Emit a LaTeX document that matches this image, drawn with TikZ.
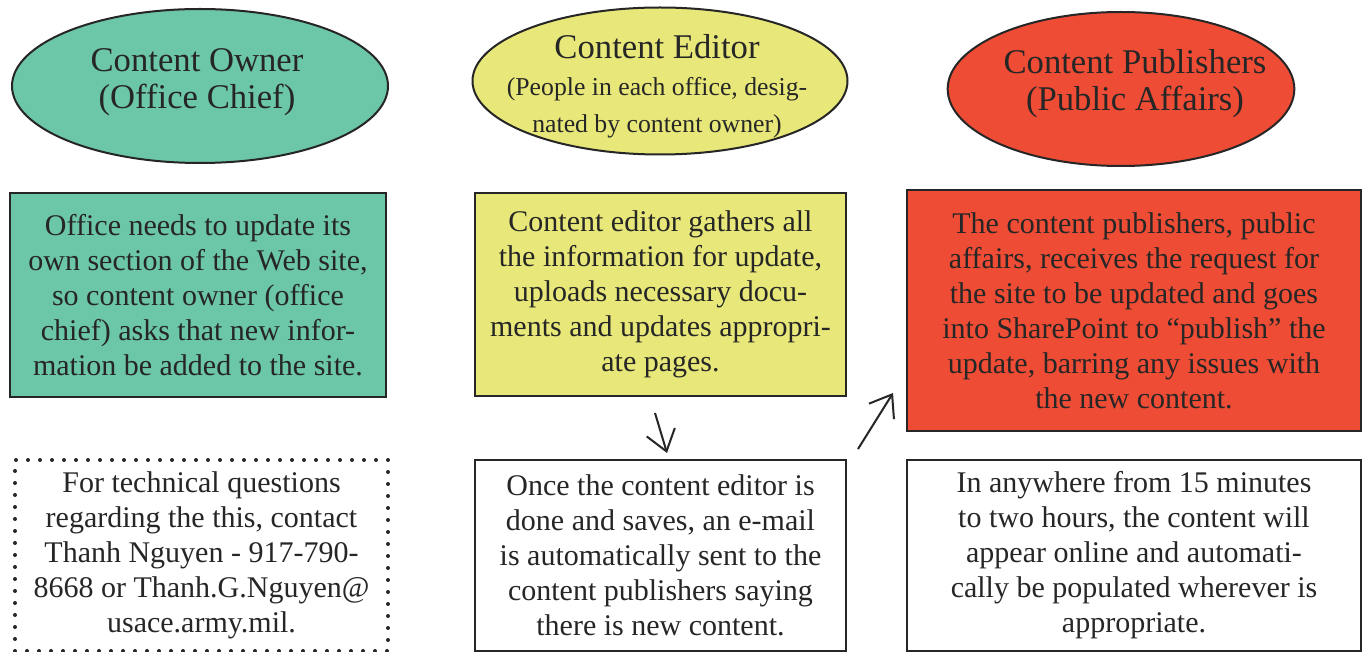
\documentclass[tikz,border=0pt]{standalone}
\usepackage{fontspec}
\setmainfont{Liberation Serif}
\usetikzlibrary{shapes.geometric,arrows.meta}
\definecolor{tealc}{RGB}{108,198,168}
\definecolor{yelc}{RGB}{232,232,122}
\definecolor{redc}{RGB}{238,76,52}
\definecolor{inkc}{RGB}{38,38,38}
\newcommand\mysubfont{\fontsize{19.3}{26.25}\selectfont}
\begin{document}
\begin{tikzpicture}[x=0.75pt,y=-0.75pt,
  ell/.style={ellipse,draw=inkc,line width=1.5pt,inner sep=0pt},
  ttl/.style={align=center,text=inkc,font=\fontsize{26}{27.75}\selectfont},
  boxx/.style={rectangle,draw=inkc,line width=1.5pt,align=center,text=inkc,inner sep=0pt,
    font=\fontsize{22.5}{26.25}\selectfont},
  dotbox/.style={rectangle,draw=inkc,line width=3pt,line cap=round,dash pattern=on 0pt off 9pt,
    align=center,text=inkc,inner sep=0pt,font=\fontsize{22.5}{26.25}\selectfont},
  arr/.style={draw=inkc,line width=1.5pt,-{Straight Barb[length=15pt,width=22pt]}}]
\useasboundingbox (0,0) rectangle (1363,652);
\fill[white] (0,0) rectangle (1363,652);

% ellipses
\node[ell,fill=tealc,minimum width=282pt,minimum height=115.5pt] (own) at (200,86) {};
\node[ttl] (ownt) at (197,82) {Content Owner\\(Office Chief)};
\node[ell,fill=yelc,minimum width=281.25pt,minimum height=110.25pt] (edt) at (660,81) {};
\node[ttl] (edtt) at (657,86) {Content Editor\\{\mysubfont (People in each office, desig-}\\{\mysubfont nated by content owner)}};
\node[ell,fill=redc,minimum width=260pt,minimum height=115.5pt] (pub) at (1121,89) {};
\node[ttl] (pubt) at (1135,84) {Content Publishers\\(Public Affairs)};

% boxes
\node[boxx,fill=tealc,minimum width=282pt,minimum height=153pt] (ownbox) at (198,295)
 {Office needs to update its\\own section of the Web site,\\so content owner (office\\chief) asks that new infor-\\mation be added to the site.};
\node[boxx,fill=yelc,minimum width=278.25pt,minimum height=152.25pt] (edtbox) at (660.5,294.5)
 {Content editor gathers all\\the information for update,\\uploads necessary docu-\\ments and updates appropri-\\ate pages.};
\node[boxx,fill=redc,minimum width=340.5pt,minimum height=180.75pt] (pubbox) at (1134,310.5)
 {The content publishers, public\\affairs, receives the request for\\the site to be updated and goes\\into SharePoint to “publish” the\\update, barring any issues with\\the new content.};

% lower row
\node[dotbox,minimum width=279.75pt,minimum height=143.25pt] (note) at (201.5,555.5)
 {For technical questions\\regarding the this, contact\\Thanh Nguyen - 917-790-\\8668 or Thanh.G.Nguyen@\\usace.army.mil.};
\node[boxx,fill=white,minimum width=278.25pt,minimum height=143.25pt] (edtnext) at (660.5,555.5)
 {Once the content editor is\\done and saves, an e-mail\\is automatically sent to the\\content publishers saying\\there is new content.};
\node[boxx,fill=white,minimum width=340.5pt,minimum height=143.25pt] (pubnext) at (1134,555.5)
 {In anywhere from 15 minutes\\to two hours, the content will\\appear online and automati-\\cally be populated wherever is\\appropriate.};

% arrows
\coordinate (a1s) at (655,413);
\coordinate (a1e) at (667,453);
\coordinate (a2s) at (858,449);
\coordinate (a2e) at (893,393);
\draw[arr] (a1s) -- (a1e);
\draw[arr] (a2s) -- (a2e);
\end{tikzpicture}
\end{document}
